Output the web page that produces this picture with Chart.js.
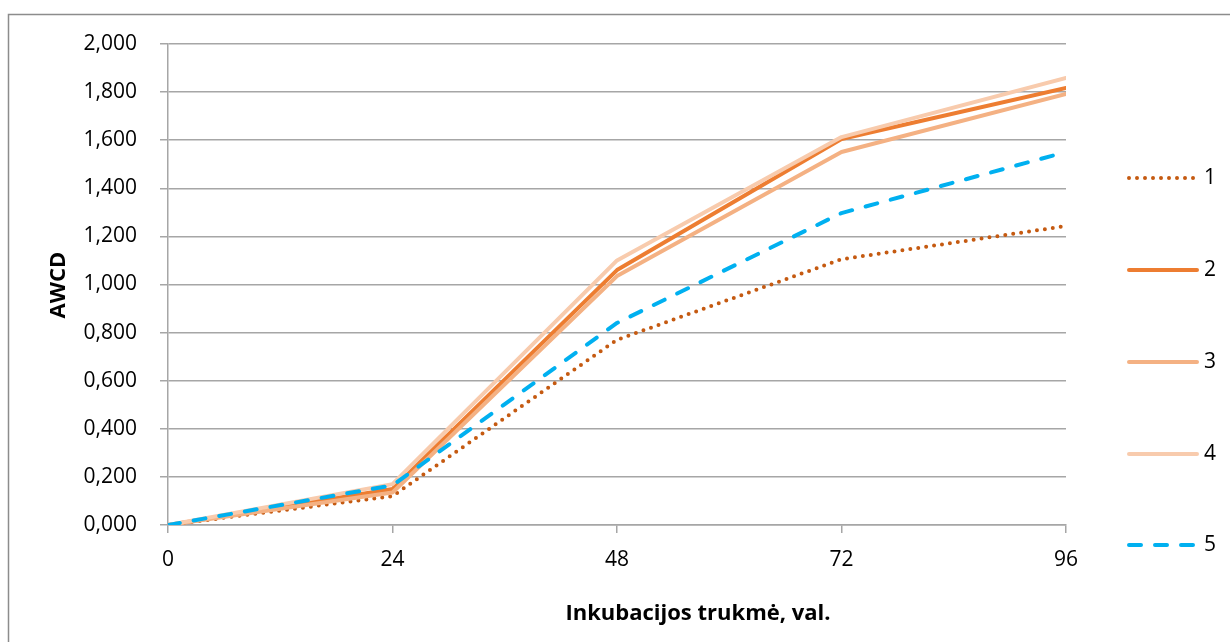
<!DOCTYPE html>
<html>
<head>
<meta charset="utf-8">
<script src="https://cdn.jsdelivr.net/npm/chart.js@4.4.1/dist/chart.umd.min.js"></script>
<style>
  body { margin: 0; background: #fff; }
  #wrap { width: 1230px; height: 642px; position: relative; }
</style>
</head>
<body>
<div id="wrap"><canvas id="chart" width="1230" height="642"></canvas></div>
<script>
// hours of incubation
const hours = [0, 24, 48, 72, 96];
const yTicks = [0, 0.2, 0.4, 0.6, 0.8, 1.0, 1.2, 1.4, 1.6, 1.8, 2.0];

// AWCD per variant
const series1 = [0, 0.12, 0.77, 1.105, 1.243];
const series2 = [0, 0.15, 1.06, 1.605, 1.817];
const series3 = [0, 0.135, 1.035, 1.551, 1.792];
const series4 = [0, 0.17, 1.10, 1.613, 1.859];
const series5 = [0, 0.165, 0.84, 1.297, 1.551];
const seriesNames = ['1', '2', '3', '4', '5'];

const FONT = "'Open Sans', 'Liberation Sans', sans-serif";
const GRID = '#a6a6a6';

const toPoints = (vals) => vals.map((v, i) => ({ x: hours[i], y: v }));

const styles = [
  { color: '#C55A11', dash: [0, 8] },
  { color: '#ED7D31', dash: [] },
  { color: '#F4B183', dash: [] },
  { color: '#F8CBAD', dash: [] },
  { color: '#00B0F0', dash: [12, 14] },
];

const allSeries = [series1, series2, series3, series4, series5];

const datasets = allSeries.map((vals, i) => ({
  label: seriesNames[i],
  data: toPoints(vals),
  borderColor: styles[i].color,
  backgroundColor: styles[i].color,
  borderWidth: 4,
  borderDash: styles[i].dash,
  borderCapStyle: 'round',
  borderJoinStyle: 'round',
  pointRadius: 0,
  tension: 0,
  order: 5 - i, // later series drawn on top, like in Excel
}));

// frame, axis titles and the legend
const decorations = {
  id: 'decorations',
  beforeDraw(chart) {
    const ctx = chart.ctx;
    ctx.save();
    ctx.strokeStyle = '#8c8c8c';
    ctx.lineWidth = 1.5;
    ctx.strokeRect(8.5, 14.5, 1400, 800);
    ctx.restore();
  },
  afterDraw(chart) {
    const ctx = chart.ctx;
    ctx.save();
    ctx.fillStyle = '#000';
    ctx.font = 'bold 22px ' + FONT;
    ctx.textAlign = 'center';
    ctx.textBaseline = 'middle';
    ctx.fillText('Inkubacijos trukmė, val.', 698, 614);
    ctx.translate(59, 285);
    ctx.rotate(-Math.PI / 2);
    ctx.fillText('AWCD', 0, 0);
    ctx.restore();

    // legend on the right
    const ys = [178, 270, 362, 454, 545];
    chart.data.datasets.forEach((ds, i) => {
      ctx.save();
      ctx.strokeStyle = ds.borderColor;
      ctx.lineWidth = 4;
      ctx.lineCap = 'round';
      ctx.setLineDash(ds.borderDash);
      ctx.beginPath();
      ctx.moveTo(1129, ys[i]);
      ctx.lineTo(1197, ys[i]);
      ctx.stroke();
      ctx.restore();
      ctx.save();
      ctx.fillStyle = '#000';
      ctx.font = '21px ' + FONT;
      ctx.textAlign = 'left';
      ctx.textBaseline = 'middle';
      ctx.fillText(ds.label, 1204, ys[i]);
      ctx.restore();
    });
  },
};

new Chart(document.getElementById('chart'), {
  type: 'line',
  data: { datasets: datasets },
  plugins: [decorations],
  options: {
    responsive: false,
    animation: false,
    layout: { padding: { left: 0, top: 44, right: 164, bottom: 0 } },
    plugins: {
      legend: { display: false },
      tooltip: { enabled: false },
    },
    scales: {
      x: {
        type: 'linear',
        min: 0,
        max: 96,
        afterBuildTicks: (scale) => { scale.ticks = hours.map((h) => ({ value: h })); },
        afterFit: (scale) => { scale.height = 117; },
        grid: { drawOnChartArea: false, drawTicks: true, tickLength: 8, color: GRID, lineWidth: 1.5 },
        border: { display: true, color: GRID, width: 1.5 },
        ticks: { color: '#000', font: { family: FONT, size: 21 }, padding: 14, maxRotation: 0 },
      },
      y: {
        min: 0,
        max: 2,
        afterBuildTicks: (scale) => { scale.ticks = yTicks.map((v) => ({ value: v })); },
        afterFit: (scale) => { scale.width = 168; },
        grid: { drawTicks: true, tickLength: 8, color: GRID, lineWidth: 1.5 },
        border: { display: true, color: GRID, width: 1.5 },
        ticks: {
          color: '#000',
          font: { family: FONT, size: 21 },
          padding: 23,
          callback: (v) => v.toFixed(3).replace('.', ','),
        },
      },
    },
  },
});
</script>
</body>
</html>
